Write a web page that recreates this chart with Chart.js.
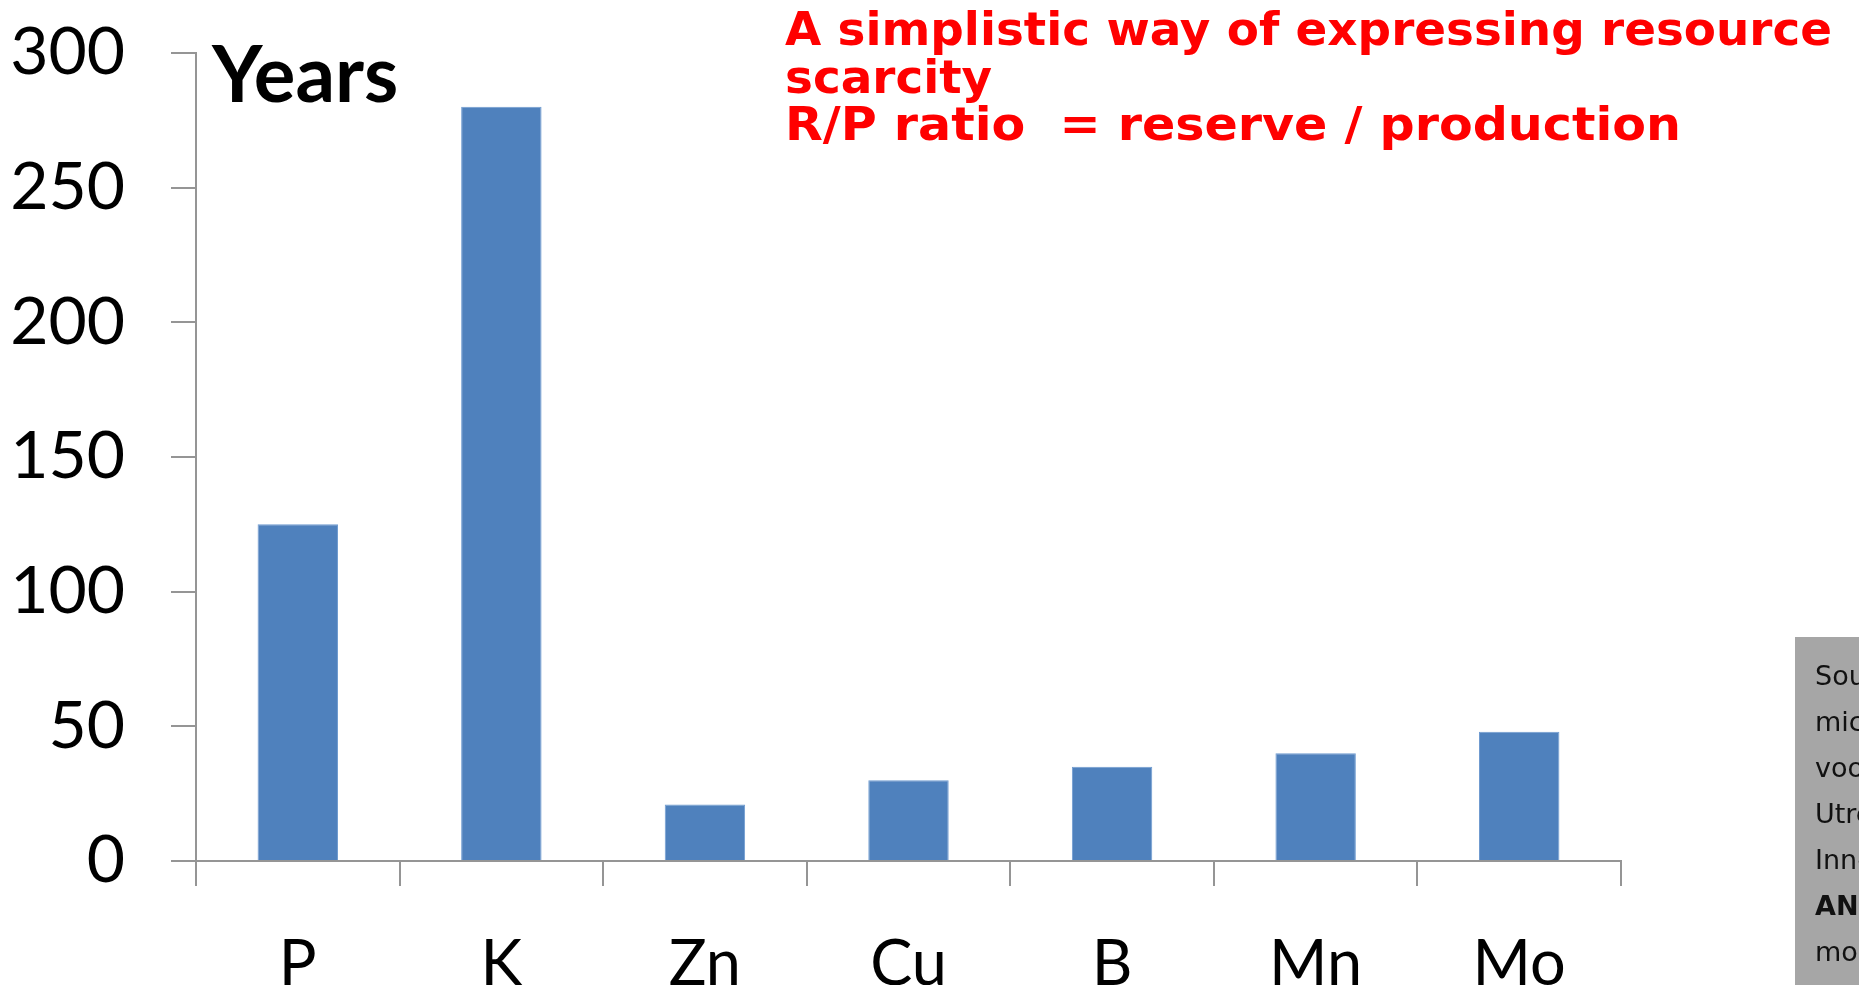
<!DOCTYPE html>
<html>
<head>
<meta charset="utf-8">
<title>R/P ratio</title>
<script src="https://cdn.jsdelivr.net/npm/chart.js@4.4.1/dist/chart.umd.min.js"></script>
<style>
  html, body { margin: 0; padding: 0; background: #ffffff; overflow: hidden; }
  #wrap { position: relative; width: 1859px; height: 985px; }
  canvas { display: block; }
</style>
</head>
<body>
<div id="wrap"><canvas id="chart" width="1859" height="985"></canvas></div>
<script>
// Reserve-to-production ratio per nutrient, in years
const categories = ['P', 'K', 'Zn', 'Cu', 'B', 'Mn', 'Mo'];
const rpYears = [125, 280, 21, 30, 35, 40, 48];

const yMin = 0;
const yMax = 300;
const yStep = 50;

const unitLabel = 'Years';
const headingLines = [
  'A simplistic way of expressing resource',
  'scarcity',
  'R/P ratio  = reserve / production'
];
// target widths of the heading lines (condensed bold face)
const headingWidths = [1047, null, 896];
const sourceLines = ['Sou', 'mic', 'voo', 'Utre', 'Inno', 'ANI', 'mog'];
const sourceBold = [false, false, false, false, false, true, false];

const axisGray = '#959595';

// Heading, unit label and source box drawn over the chart
const overlays = {
  id: 'overlays',
  afterDraw(chart) {
    const ctx = chart.ctx;
    ctx.save();

    // unit label next to the value axis
    ctx.fillStyle = '#000000';
    ctx.font = 'bold 78px Lato';
    ctx.textAlign = 'left';
    ctx.textBaseline = 'alphabetic';
    ctx.fillText(unitLabel, 212, 102);

    // red heading, condensed horizontally
    ctx.font = 'bold 46px "DejaVu Sans"';
    ctx.fillStyle = '#ff0000';
    const baseScale = headingWidths[0] / ctx.measureText(headingLines[0]).width;
    headingLines.forEach((line, i) => {
      const sx = headingWidths[i] ? headingWidths[i] / ctx.measureText(line).width : baseScale;
      ctx.save();
      ctx.translate(785, 45 + i * 47.5);
      ctx.scale(sx, 1);
      ctx.fillText(line, 0, 0);
      ctx.restore();
    });

    // grey source box at the right edge
    ctx.fillStyle = '#a6a6a6';
    ctx.fillRect(1795, 637, 64, 348);
    ctx.fillStyle = '#111111';
    sourceLines.forEach((line, i) => {
      ctx.font = (sourceBold[i] ? 'bold ' : '') + '27px "DejaVu Sans"';
      ctx.fillText(line, 1815, 685 + i * 46);
    });

    ctx.restore();
  }
};

new Chart(document.getElementById('chart'), {
  type: 'bar',
  data: {
    labels: categories,
    datasets: [{
      data: rpYears,
      backgroundColor: '#4f81bd',
      borderColor: '#6f9bd0',
      borderWidth: 1,
      barPercentage: 0.395,
      categoryPercentage: 1.0
    }]
  },
  options: {
    responsive: false,
    animation: false,
    devicePixelRatio: 1,
    layout: { padding: { top: 53, right: 238, bottom: 0, left: 0 } },
    plugins: {
      legend: { display: false },
      tooltip: { enabled: false },
      title: { display: false }
    },
    scales: {
      x: {
        offset: true,
        grid: {
          offset: true,
          drawOnChartArea: false,
          drawTicks: true,
          tickLength: 25,
          color: axisGray,
          lineWidth: 2
        },
        border: { display: true, color: axisGray, width: 2 },
        ticks: {
          color: '#000000',
          padding: 41,
          font: { family: 'Lato', size: 63 },
          maxRotation: 0,
          autoSkip: false
        },
        afterFit(scale) { scale.height = 124; }
      },
      y: {
        min: yMin,
        max: yMax,
        grid: {
          drawOnChartArea: false,
          drawTicks: true,
          tickLength: 25,
          color: axisGray,
          lineWidth: 2
        },
        border: { display: true, color: axisGray, width: 2 },
        ticks: {
          stepSize: yStep,
          color: '#000000',
          padding: 46,
          font: { family: 'Lato', size: 66, lineHeight: 0.4 }
        },
        afterFit(scale) {
          scale.width = 196;
          scale.paddingTop = 0;
          scale.paddingBottom = 0;
        }
      }
    }
  },
  plugins: [overlays]
});
</script>
</body>
</html>
